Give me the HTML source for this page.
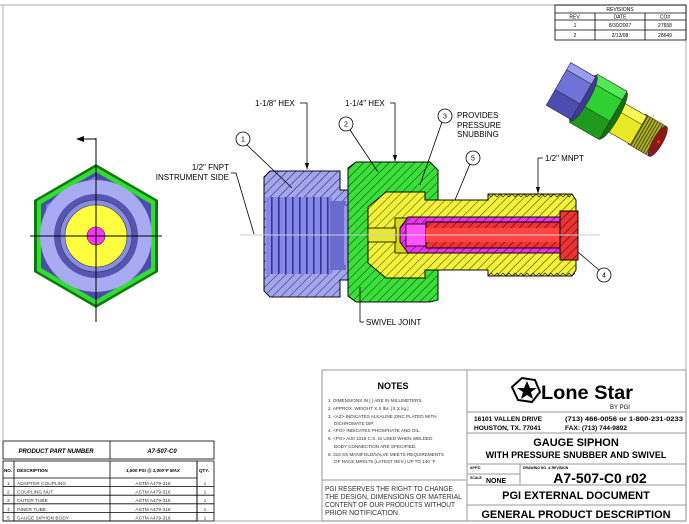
<!DOCTYPE html>
<html><head><meta charset="utf-8"><style>
html,body{margin:0;padding:0;background:#fff;}
svg{display:block;font-family:"Liberation Sans",sans-serif;}
</style></head><body>
<svg width="689" height="524" viewBox="0 0 689 524" xmlns="http://www.w3.org/2000/svg">
<defs>
<pattern id="h" patternUnits="userSpaceOnUse" width="6" height="6" patternTransform="rotate(45)">
<line x1="0" y1="0" x2="0" y2="6" stroke="#000" stroke-width="0.8"/>
</pattern>
<pattern id="st" patternUnits="userSpaceOnUse" width="7" height="10">
<rect width="7" height="10" fill="#8587ea"/><rect x="5" width="1.6" height="10" fill="#34358a"/>
</pattern>
<pattern id="th" patternUnits="userSpaceOnUse" width="3.5" height="3">
<rect width="3.5" height="3" fill="#b0b028"/><rect width="1.2" height="3" fill="#4a4a10"/>
</pattern>
</defs>

<g stroke="#bbb" stroke-width="1.2" fill="none">
<line x1="0" y1="5" x2="686" y2="5"/>
<line x1="686" y1="5" x2="686" y2="521"/>
<line x1="3" y1="5" x2="3" y2="440"/>
<line x1="214" y1="521" x2="686" y2="521"/>
</g>

<g stroke="#000" stroke-width="0.8" fill="none">
<rect x="555" y="5" width="131" height="35"/>
<line x1="555" y1="13" x2="686" y2="13"/><line x1="555" y1="20" x2="686" y2="20"/><line x1="555" y1="30" x2="686" y2="30"/>
<line x1="595" y1="13" x2="595" y2="40"/><line x1="645" y1="13" x2="645" y2="40"/>
</g>
<g font-size="5" text-anchor="middle" fill="#000">
<text x="620" y="11">REVISIONS</text>
<text x="575" y="18.5">REV.</text><text x="620" y="18.5">DATE</text><text x="665" y="18.5">CO#</text>
<text x="575" y="27">1</text><text x="620" y="27">8/30/2007</text><text x="665" y="27">27658</text>
<text x="575" y="37">2</text><text x="620" y="37">2/13/08</text><text x="665" y="37">28649</text>
</g>

<g>
<polygon points="96,164 158,200 158,272 96,308 34,272 34,200" fill="#0f7a0f"/>
<polygon points="96,167 155,201 155,271 96,305 37,271 37,201" fill="#33dd33"/>
<polygon points="96,172 151,204 151,268 96,300 41,268 41,204" fill="#4b4ba8"/>
<polygon points="96,176 60,197 46,205 46,232 96,180" fill="#7d7fe2"/>
<circle cx="96" cy="236" r="56" fill="#a9abf2"/>
<circle cx="96" cy="236" r="42" fill="#5556b2"/>
<circle cx="96" cy="236" r="36" fill="#8a8cea" stroke="#333" stroke-width="0.6"/>
<circle cx="96" cy="236" r="31" fill="#ffff40" stroke="#333" stroke-width="0.6"/>
<circle cx="96" cy="236" r="9" fill="#ff33ff" stroke="#333" stroke-width="0.6"/>
<g stroke="#000" stroke-width="1">
<line x1="96" y1="138" x2="96" y2="322"/>
<line x1="30" y1="236" x2="162" y2="236"/>
<line x1="80" y1="139" x2="96" y2="139"/>
</g>
<polygon points="76,139 84,136 84,142" fill="#000"/>
</g>

<g stroke="#000" stroke-width="0.8">
<polygon points="270,171 340,171 340,190 368,190 368,280 340,280 340,297 270,297 264,291 264,177" fill="#a3a5f0"/>
<polygon points="270,171 340,171 340,190 368,190 368,280 340,280 340,297 270,297 264,291 264,177" fill="url(#h)"/>
<rect x="266" y="197" width="66" height="77" fill="url(#st)" stroke="none"/>
<rect x="330" y="201" width="16" height="69" fill="#6a6bcc" stroke="none"/>
<rect x="344" y="206" width="24" height="59" fill="#9496ee" stroke="none"/>
<polygon points="356,162 430,162 438,170 438,300 430,302 356,302 348,296 348,168" fill="#3adf3a"/>
<polygon points="356,162 430,162 438,170 438,300 430,302 356,302 348,296 348,168" fill="url(#h)"/>
<polygon points="368,207 386,192 425,192 425,200 488,200 488,194 572,194 576,200 576,270 572,276 488,276 488,270 425,270 425,278 386,278 368,263" fill="#f2f23a"/>
<polygon points="368,207 386,192 425,192 425,200 488,200 488,194 572,194 576,200 576,270 572,276 488,276 488,270 425,270 425,278 386,278 368,263" fill="url(#h)"/>
<rect x="395" y="218" width="25" height="35" fill="#d8d820"/>
<rect x="368" y="228" width="28" height="14" fill="#e8e830"/>
<polygon points="400,228 408,217 562,217 562,253 408,253 400,242" fill="#ee33ee"/>
<polygon points="400,228 408,217 562,217 562,253 408,253 400,242" fill="url(#h)"/>
<rect x="406" y="224" width="20" height="22" fill="#ff55ff"/>
<rect x="426" y="222" width="137" height="26" fill="#ee3333"/>
<rect x="426" y="222" width="137" height="26" fill="url(#h)"/>
<rect x="426" y="228" width="137" height="14" fill="#ff4444" stroke="none"/>
<rect x="560" y="211" width="18" height="49" fill="#ee3333"/>
<rect x="560" y="211" width="18" height="49" fill="url(#h)"/>
</g>
<line x1="240" y1="235" x2="600" y2="235" stroke="#ccc" stroke-width="1"/>
<path d="M488,194 l3,3 l3,-3 l3,3 l3,-3 l3,3 l3,-3 l3,3 l3,-3 l3,3 l3,-3 l3,3 l3,-3 l3,3 l3,-3 l3,3 l3,-3 l3,3 l3,-3 l3,3 l3,-3 l3,3 l3,-3 l3,3 l3,-3 l3,3 l3,-3 l3,3 l3,-3" fill="none" stroke="#000" stroke-width="0.6"/>
<path d="M488,276 l3,-3 l3,3 l3,-3 l3,3 l3,-3 l3,3 l3,-3 l3,3 l3,-3 l3,3 l3,-3 l3,3 l3,-3 l3,3 l3,-3 l3,3 l3,-3 l3,3 l3,-3 l3,3 l3,-3 l3,3 l3,-3 l3,3 l3,-3 l3,3 l3,-3 l3,3 l3,-3" fill="none" stroke="#000" stroke-width="0.6"/>

<g stroke="#000" stroke-width="0.8" fill="none">
<line x1="300" y1="103" x2="307" y2="103"/><line x1="307" y1="103" x2="307" y2="167"/>
<line x1="390" y1="103" x2="395" y2="103"/><line x1="395" y1="103" x2="395" y2="159"/>
<line x1="538" y1="158" x2="543" y2="158"/><line x1="538" y1="158" x2="538" y2="191"/>
<line x1="231" y1="173" x2="236" y2="173"/><line x1="236" y1="173" x2="254" y2="234"/>
<line x1="364" y1="322" x2="360" y2="322"/><line x1="360" y1="322" x2="360" y2="287"/>
<circle cx="243" cy="139" r="7" fill="#fff"/><line x1="247" y1="145" x2="292" y2="188"/>
<circle cx="346" cy="124" r="7" fill="#fff"/><line x1="350" y1="130" x2="378" y2="172"/>
<circle cx="445" cy="116" r="7" fill="#fff"/><line x1="442" y1="122" x2="420" y2="185"/>
<circle cx="473" cy="158" r="7" fill="#fff"/><line x1="470" y1="164" x2="455" y2="200"/>
<circle cx="604" cy="275" r="7" fill="#fff"/><line x1="599" y1="270" x2="578" y2="252"/>
</g>
<g fill="#000"><polygon points="307,170 305,163 309,163"/><polygon points="395,162 393,155 397,155"/><polygon points="538,194 536,187 540,187"/></g>
<g font-size="8" fill="#000">
<text x="255" y="106">1-1/8" HEX</text>
<text x="345" y="106">1-1/4" HEX</text>
<text x="457" y="118">PROVIDES</text><text x="457" y="128">PRESSURE</text><text x="457" y="137">SNUBBING</text>
<text x="545" y="161">1/2" MNPT</text>
<text x="229" y="170" text-anchor="end">1/2" FNPT</text>
<text x="229" y="180" text-anchor="end">INSTRUMENT SIDE</text>
<text x="366" y="325">SWIVEL JOINT</text>
</g>
<g font-size="7" text-anchor="middle" fill="#000">
<text x="243" y="141.5">1</text><text x="346" y="126.5">2</text><text x="445" y="118.5">3</text><text x="473" y="160.5">5</text><text x="604" y="277.5">4</text>
</g>

<g transform="translate(562,86) rotate(30) scale(0.82)" stroke="#222" stroke-width="0.6">
<rect x="105" y="-21" width="30" height="42" fill="url(#th)"/>
<ellipse cx="135" cy="0" rx="6" ry="21" fill="#8a1a1a"/>
<circle cx="136" cy="0" r="2" fill="#ff2222" stroke="none"/>
<rect x="72" y="-20" width="36" height="40" fill="#e8e826"/>
<rect x="72" y="-20" width="36" height="12" fill="#f6f655"/>
<ellipse cx="72" cy="0" rx="7" ry="33" fill="#127212"/>
<rect x="30" y="-34" width="42" height="68" fill="#1e9a1e"/>
<rect x="30" y="-22" width="42" height="30" fill="#2fd02f"/>
<rect x="30" y="-34" width="42" height="12" fill="#55e855"/>
<ellipse cx="30" cy="0" rx="7" ry="32" fill="#3b3c96"/>
<rect x="-5" y="-30" width="35" height="60" fill="#4c4db0"/>
<rect x="-5" y="-20" width="35" height="28" fill="#7072d8"/>
<rect x="-5" y="-30" width="35" height="10" fill="#9a9cf0"/>
</g>

<g stroke="#999" stroke-width="1" fill="none">
<rect x="322" y="370" width="364" height="151"/>
<line x1="467" y1="370" x2="467" y2="521"/>
<line x1="322" y1="480" x2="467" y2="480"/>
<line x1="467" y1="412" x2="686" y2="412"/>
<line x1="467" y1="433" x2="686" y2="433"/>
<line x1="467" y1="464" x2="686" y2="464"/>
<line x1="467" y1="485" x2="686" y2="485"/>
<line x1="467" y1="474" x2="520" y2="474"/>
<line x1="520" y1="464" x2="520" y2="485"/>
<line x1="467" y1="505" x2="686" y2="505"/>
</g>
<text x="393" y="389" font-size="9" font-weight="bold" text-anchor="middle">NOTES</text>
<g font-size="4.6" fill="#333">
<text x="328" y="402">1.  DIMENSIONS IN [ ] ARE IN MILLIMETERS.</text>
<text x="328" y="410">2.  APPROX. WEIGHT X.X lbs. [X.X kg.]</text>
<text x="328" y="418">3.  &lt;AZ&gt; INDICATES ALKALINE ZINC PLATED WITH</text>
<text x="334" y="425">DICHROMATE DIP.</text>
<text x="328" y="432">4.  &lt;PO&gt; INDICATES PHOSPHATE AND OIL.</text>
<text x="328" y="440">5.  &lt;PO&gt; AISI 1018 C.S. IS USED WHEN WELDED</text>
<text x="334" y="448">BODY CONNECTION ARE SPECIFIED.</text>
<text x="328" y="456">6.  316 SS MANIFOLD/VALVE MEETS REQUIREMENTS</text>
<text x="334" y="463">OF NACE MR0175 (LATEST REV.) UP TO 140 °F</text>
</g>
<g font-size="7" fill="#333">
<text x="325" y="491" textLength="128" lengthAdjust="spacingAndGlyphs">PGI RESERVES THE RIGHT TO CHANGE</text>
<text x="325" y="499" textLength="137" lengthAdjust="spacingAndGlyphs">THE DESIGN, DIMENSIONS OR MATERIAL</text>
<text x="325" y="507" textLength="130" lengthAdjust="spacingAndGlyphs">CONTENT OF OUR PRODUCTS WITHOUT</text>
<text x="325" y="515">PRIOR NOTIFICATION.</text>
</g>
<polygon points="512,387 522,378 535,380 540,392 532,402 518,400" fill="none" stroke="#000" stroke-width="2"/>
<polygon points="527,381 530,388 537,388 531,392 533,399 527,395 521,399 523,392 517,388 524,388" fill="#000"/>
<text x="541" y="399" font-size="19" font-weight="bold" fill="#000" textLength="92" lengthAdjust="spacingAndGlyphs">Lone Star</text>
<text x="610" y="409" font-size="6" fill="#000">BY PGI</text>
<g font-size="6.6" font-weight="bold" fill="#000">
<text x="474" y="421">16101 VALLEN DRIVE</text>
<text x="474" y="430">HOUSTON, TX. 77041</text>
<text x="565" y="421" textLength="118" lengthAdjust="spacingAndGlyphs">(713) 466-0056 or 1-800-231-0233</text>
<text x="565" y="430">FAX: (713) 744-9892</text>
</g>
<text x="576" y="446" font-size="11" font-weight="bold" text-anchor="middle">GAUGE SIPHON</text>
<text x="576" y="458" font-size="9" font-weight="bold" text-anchor="middle">WITH PRESSURE SNUBBER AND SWIVEL</text>
<text x="470" y="469" font-size="3.5" font-weight="bold">APP'D</text>
<text x="470" y="479" font-size="3.5" font-weight="bold">SCALE</text>
<text x="486" y="483" font-size="7" font-weight="bold">NONE</text>
<text x="523" y="469" font-size="3.5" font-weight="bold">DRAWING NO. &amp; REVISION</text>
<text x="600" y="483" font-size="14" font-weight="bold" text-anchor="middle">A7-507-C0 r02</text>
<text x="576" y="499" font-size="11" font-weight="bold" text-anchor="middle">PGI EXTERNAL DOCUMENT</text>
<text x="576" y="518" font-size="11" font-weight="bold" text-anchor="middle">GENERAL PRODUCT DESCRIPTION</text>

<g stroke="#000" stroke-width="0.8" fill="none">
<rect x="3" y="441" width="211" height="18"/>
<line x1="110" y1="441" x2="110" y2="459"/>
<rect x="3" y="461" width="194" height="60"/>
<line x1="3" y1="478" x2="197" y2="478"/>
<line x1="14" y1="461" x2="14" y2="521"/>
<line x1="110" y1="461" x2="110" y2="521"/>
<line x1="197" y1="461" x2="214" y2="461"/><line x1="214" y1="461" x2="214" y2="521"/>
<line x1="197" y1="461" x2="197" y2="521"/>
<line x1="3" y1="486.6" x2="214" y2="486.6"/>
<line x1="3" y1="495.2" x2="214" y2="495.2"/>
<line x1="3" y1="503.8" x2="214" y2="503.8"/>
<line x1="3" y1="512.4" x2="214" y2="512.4"/>
<line x1="3" y1="521" x2="214" y2="521"/>
</g>
<g font-size="6" font-weight="bold" font-style="italic" text-anchor="middle">
<text x="56" y="453">PRODUCT PART NUMBER</text><text x="162" y="453">A7-507-C0</text>
</g>
<g font-size="4.5" font-weight="bold">
<text x="4" y="472">NO.</text><text x="17" y="472">DESCRIPTION</text>
<text x="153" y="472" text-anchor="middle" font-style="italic">1,500 PSI @ 1,000°F MAX</text>
<text x="199" y="472">QTY.</text>
</g>
<g font-size="4.8" fill="#333">
<text x="7" y="485">1</text><text x="17" y="485">ADAPTER COUPLING</text><text x="153" y="485" text-anchor="middle">ASTM A479-316</text><text x="205" y="485" text-anchor="middle">1</text>
<text x="7" y="493.6">2</text><text x="17" y="493.6">COUPLING NUT</text><text x="153" y="493.6" text-anchor="middle">ASTM A479-316</text><text x="205" y="493.6" text-anchor="middle">1</text>
<text x="7" y="502.2">3</text><text x="17" y="502.2">OUTER TUBE</text><text x="153" y="502.2" text-anchor="middle">ASTM A479-316</text><text x="205" y="502.2" text-anchor="middle">1</text>
<text x="7" y="510.8">4</text><text x="17" y="510.8">INNER TUBE</text><text x="153" y="510.8" text-anchor="middle">ASTM A479-316</text><text x="205" y="510.8" text-anchor="middle">1</text>
<text x="7" y="519.4">5</text><text x="17" y="519.4">GAUGE SIPHON BODY</text><text x="153" y="519.4" text-anchor="middle">ASTM A479-316</text><text x="205" y="519.4" text-anchor="middle">1</text>
</g>
</svg>
</body></html>
